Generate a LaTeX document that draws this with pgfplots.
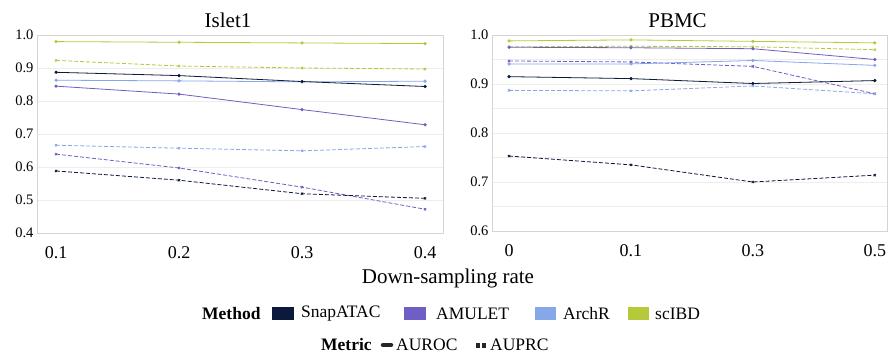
\documentclass[border=0pt]{standalone}
\usepackage{fontspec}
\setmainfont{Liberation Serif}
\usepackage{pgfplots}
\pgfplotsset{compat=1.18}
\definecolor{snap}{HTML}{0B1A3A}
\definecolor{amu}{HTML}{6F5EC4}
\definecolor{arch}{HTML}{86A8E8}
\definecolor{scibd}{HTML}{B5C93A}
\pgfplotsset{
  base/.style={scale only axis, axis line style={draw=black!17},
    tick style={draw=none}, ymajorgrids, grid style={black!7},
    /pgf/number format/assume math mode=true,
    yticklabel style={font=\fontsize{14.5}{14.5}\selectfont,/pgf/number format/.cd,fixed,fixed zerofill,precision=1},
    xticklabel style={font=\fontsize{18}{18}\selectfont, yshift=-10pt},
    title style={font=\fontsize{21}{21}\selectfont, xshift=-12pt, yshift=-2pt},
  },
  roc/.style={#1, line width=0.8pt, mark=*, mark size=1.2pt},
  prc/.style={#1, line width=0.8pt, dash pattern=on 4pt off 2pt, mark=x, mark size=1.6pt, mark options={solid}},
}
\begin{document}
\begin{tikzpicture}[x=1pt,y=1pt]
\path[use as bounding box] (0,0) rectangle (896,354);
\begin{axis}[base, at={(37pt,121pt)}, anchor=south west, width=406pt, height=198pt,
  title={Islet1}, xmin=0.0845, xmax=0.4146, ymin=0.4, ymax=1.0,
  xtick={0.1,0.2,0.3,0.4}, ytick={0.4,0.5,...,1.0},
  xticklabel style={/pgf/number format/.cd,fixed,fixed zerofill,precision=1}]
\addplot[roc=scibd] coordinates {(0.1,0.980)(0.2,0.978)(0.3,0.976)(0.4,0.974)};
\addplot[prc=scibd] coordinates {(0.1,0.923)(0.2,0.906)(0.3,0.900)(0.4,0.897)};
\addplot[roc=arch] coordinates {(0.1,0.863)(0.2,0.861)(0.3,0.858)(0.4,0.860)};
\addplot[roc=snap] coordinates {(0.1,0.887)(0.2,0.877)(0.3,0.859)(0.4,0.844)};
\addplot[roc=amu] coordinates {(0.1,0.845)(0.2,0.821)(0.3,0.774)(0.4,0.728)};
\addplot[prc=arch] coordinates {(0.1,0.666)(0.2,0.657)(0.3,0.649)(0.4,0.662)};
\addplot[prc=amu] coordinates {(0.1,0.639)(0.2,0.597)(0.3,0.539)(0.4,0.472)};
\addplot[prc=snap] coordinates {(0.1,0.588)(0.2,0.560)(0.3,0.519)(0.4,0.505)};
\end{axis}
\begin{axis}[base, at={(492pt,123pt)}, anchor=south west, width=395pt, height=196pt,
  title={PBMC}, xmin=-0.14, xmax=3.1, ymin=0.6, ymax=1.0,
  xtick={0,1,2,3}, xticklabels={0,0.1,0.3,0.5}, ytick={0.6,0.7,...,1.0},
  minor ytick={0.65,0.75,0.85,0.95}, yminorgrids, minor grid style={black!7}]
\addplot[roc=scibd] coordinates {(0,0.988)(1,0.990)(2,0.987)(3,0.984)};
\addplot[prc=scibd] coordinates {(0,0.976)(1,0.977)(2,0.976)(3,0.970)};
\addplot[roc=amu] coordinates {(0,0.975)(1,0.974)(2,0.972)(3,0.950)};
\addplot[prc=amu] coordinates {(0,0.947)(1,0.945)(2,0.936)(3,0.880)};
\addplot[roc=arch] coordinates {(0,0.941)(1,0.941)(2,0.948)(3,0.938)};
\addplot[roc=snap] coordinates {(0,0.915)(1,0.911)(2,0.901)(3,0.907)};
\addplot[prc=arch] coordinates {(0,0.887)(1,0.886)(2,0.896)(3,0.880)};
\addplot[prc=snap] coordinates {(0,0.753)(1,0.735)(2,0.700)(3,0.714)};
\end{axis}
\node[font=\fontsize{21}{21}\selectfont] at (448,76) {Down-sampling rate};
% legend
\begin{scope}[every node/.style={inner sep=0pt, anchor=west, font=\fontsize{17.5}{17.5}\selectfont}]
\node[font=\fontsize{17.5}{17.5}\selectfont\bfseries] at (202,40) {Method};
\fill[snap] (272,34) rectangle (294,47); \node at (301,40) {SnapATAC};
\fill[amu] (404,34) rectangle (426,47); \node at (436,40) {AMULET};
\fill[arch] (535,34) rectangle (556,47); \node at (563,40) {ArchR};
\fill[scibd] (628,34) rectangle (649,47); \node at (655,40) {scIBD};
\node[font=\fontsize{17.5}{17.5}\selectfont\bfseries] at (321,9) {Metric};
\draw[black!85, line width=4.5pt, line cap=round] (383,9) -- (391,9); \node at (396,9) {AUROC};
\fill[black!85] (476,6.5) rectangle (480,11.5); \fill[black!85] (482,6.5) rectangle (486,11.5); \node at (490,9) {AUPRC};
\end{scope}
\end{tikzpicture}
\end{document}
